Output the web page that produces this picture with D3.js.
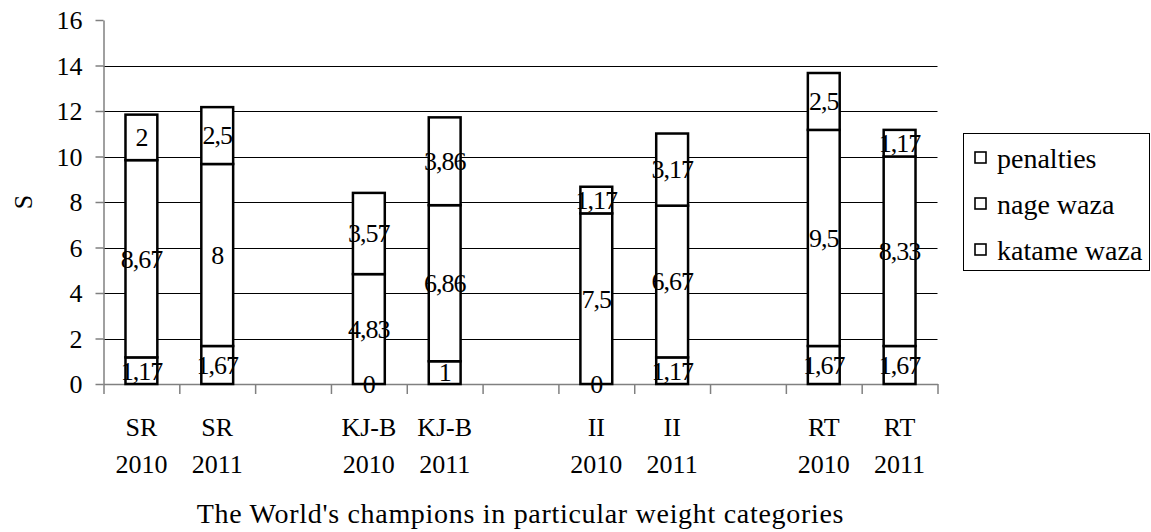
<!DOCTYPE html>
<html>
<head>
<meta charset="utf-8">
<script src="https://cdn.jsdelivr.net/npm/d3@7"></script>
<style>
  html, body { margin: 0; padding: 0; background: #fff; }
  svg { display: block; }
  svg text { font-family: "Liberation Serif", "Times New Roman", serif; }
</style>
</head>
<body>
<svg id="chart" width="1151" height="532"></svg>
<script>
// ---- data ----
const categories = ["SR 2010", "SR 2011", "", "KJ-B 2010", "KJ-B 2011", "", "II 2010", "II 2011", "", "RT 2010", "RT 2011"];
const katameWaza = [1.17, 1.67, null, 0, 1, null, 0, 1.17, null, 1.67, 1.67];
const nageWaza   = [8.67, 8, null, 4.83, 6.86, null, 7.5, 6.67, null, 9.5, 8.33];
const penalties  = [2, 2.5, null, 3.57, 3.86, null, 1.17, 3.17, null, 2.5, 1.17];
const seriesNames = ["katame waza", "nage waza", "penalties"];
const yTicks = [0, 2, 4, 6, 8, 10, 12, 14, 16];
const yLabel = "S";
const xTitle = "The World's champions in particular weight categories";

// ---- layout ----
const svg = d3.select("#chart");
const pLeft = 103.5, pRight = 937.5, pTop = 20, pBottom = 384;
const fs = 26;
const serif = "Liberation Serif, Times New Roman, serif";

const slots = d3.range(categories.length);
const x = d3.scaleBand().domain(slots).range([pLeft, pRight]).paddingInner(0).paddingOuter(0);
const xLin = d3.scaleLinear().domain([0, categories.length]).range([pLeft, pRight]);
const y = d3.scaleLinear().domain([0, 16]).range([pBottom, pTop]);
const barW = x.bandwidth() * 0.42;

// gridlines
svg.append("g").selectAll("line").data(yTicks.filter(d => d > 0 && d < 16)).join("line")
  .attr("x1", pLeft).attr("x2", pRight)
  .attr("y1", d => Math.round(y(d)) + 0.5).attr("y2", d => Math.round(y(d)) + 0.5)
  .attr("stroke", "#000").attr("stroke-width", 1);

// y axis
const yAxis = svg.append("g").attr("transform", `translate(${pLeft},0)`)
  .call(d3.axisLeft(y).tickValues(yTicks).tickSizeInner(8).tickSizeOuter(0).tickPadding(13));
yAxis.attr("font-family", serif);
yAxis.select(".domain").attr("stroke", "#808080").attr("stroke-width", 1.5);
yAxis.selectAll(".tick line").attr("stroke", "#808080").attr("stroke-width", 1.5);
yAxis.selectAll(".tick text").attr("font-size", fs).attr("fill", "#000")
  .attr("font-family", serif).attr("dy", "0.34em");

// x axis (ticks at slot boundaries)
const xAxis = svg.append("g").attr("transform", `translate(0,${pBottom})`)
  .call(d3.axisBottom(xLin).tickValues(d3.range(categories.length + 1)).tickFormat("").tickSizeInner(10).tickSizeOuter(0));
xAxis.select(".domain").attr("stroke", "#808080").attr("stroke-width", 1.5);
xAxis.selectAll(".tick line").attr("stroke", "#808080").attr("stroke-width", 1.5);

// x category labels (two lines)
const catG = svg.append("g").attr("font-family", serif);
categories.forEach((c, i) => {
  if (!c) return;
  const parts = c.split(" ");
  const t = catG.append("text").attr("text-anchor", "middle").attr("font-size", fs).attr("fill", "#000");
  t.append("tspan").attr("x", x(i) + x.bandwidth() / 2).attr("y", 436).text(parts[0]);
  t.append("tspan").attr("x", x(i) + x.bandwidth() / 2).attr("y", 473).text(parts[1]);
});

// stacked bars
const rows = slots.filter(i => katameWaza[i] !== null).map(i => ({
  i, "katame waza": katameWaza[i], "nage waza": nageWaza[i], "penalties": penalties[i]
}));
const stack = d3.stack().keys(seriesNames)(rows);

const fmt = v => String(v).replace(".", ",");
const barG = svg.append("g").attr("font-family", serif);
stack.forEach(layer => {
  layer.forEach(seg => {
    const i = seg.data.i;
    const cx = x(i) + x.bandwidth() / 2;
    barG.append("rect")
      .attr("x", cx - barW / 2).attr("width", barW)
      .attr("y", y(seg[1])).attr("height", Math.max(0, y(seg[0]) - y(seg[1])))
      .attr("fill", "#fff").attr("stroke", "#000").attr("stroke-width", 2.5);
  });
});
// labels on top of all bars
stack.forEach(layer => {
  layer.forEach(seg => {
    const i = seg.data.i;
    const cx = x(i) + x.bandwidth() / 2;
    const v = seg.data[layer.key];
    barG.append("text")
      .attr("x", cx).attr("y", y((seg[0] + seg[1]) / 2))
      .attr("dy", "0.34em").attr("text-anchor", "middle")
      .attr("font-size", fs).attr("fill", "#000").attr("letter-spacing", -1)
      .text(fmt(v));
  });
});

// y axis label
svg.append("text").attr("transform", "translate(32,202) rotate(-90)")
  .attr("font-family", serif)
  .attr("text-anchor", "middle").attr("font-size", fs).attr("fill", "#000").text(yLabel);

// x title
svg.append("text").attr("x", (pLeft + pRight) / 2).attr("y", 523).attr("text-anchor", "middle")
  .attr("font-family", serif).attr("letter-spacing", 0.7)
  .attr("font-size", 28).attr("fill", "#000").text(xTitle);

// legend
const lg = svg.append("g").attr("font-family", serif);
lg.append("rect").attr("x", 963.5).attr("y", 133.5).attr("width", 186).attr("height", 137)
  .attr("fill", "#fff").attr("stroke", "#000").attr("stroke-width", 1);
const legendOrder = seriesNames.slice().reverse();
const legendY = [158, 204, 250];
legendOrder.forEach((name, k) => {
  lg.append("rect").attr("x", 975).attr("y", legendY[k] - 6).attr("width", 11).attr("height", 11)
    .attr("fill", "#fff").attr("stroke", "#000").attr("stroke-width", 1.6);
  lg.append("text").attr("x", 997).attr("y", legendY[k]).attr("dy", "0.34em")
    .attr("font-size", 28).attr("fill", "#000").text(name);
});
</script>
</body>
</html>
